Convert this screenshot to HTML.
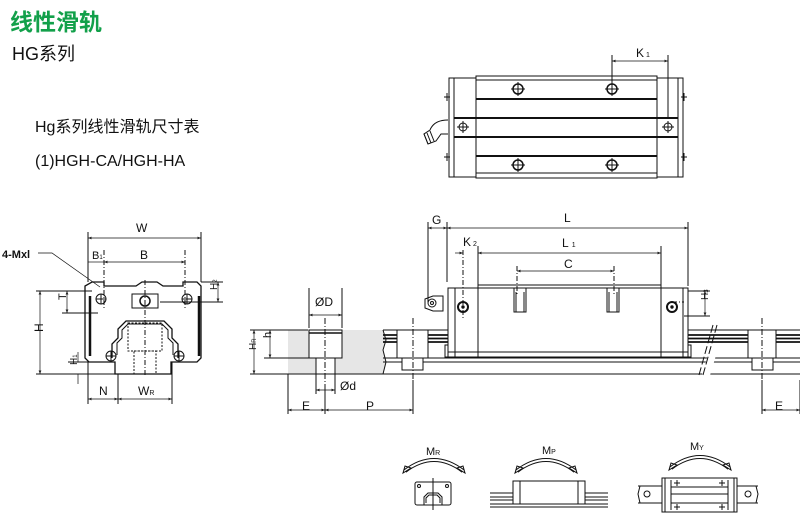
<!DOCTYPE html>
<html><head><meta charset="utf-8"><style>
body{margin:0;background:#fff;width:800px;height:519px;overflow:hidden}
svg{display:block}
text{font-family:"Liberation Sans","Noto Sans CJK SC",sans-serif;fill:#111}
</style></head><body>
<svg width="800" height="519" viewBox="0 0 800 519" xmlns="http://www.w3.org/2000/svg">
<defs>
<marker id="a" viewBox="0 0 10 10" refX="10" refY="5" markerWidth="5" markerHeight="5" orient="auto-start-reverse"><path d="M0,1 L10,5 L0,9 z" fill="#222"/></marker>
</defs>
<text x="10" y="30" font-size="23" font-weight="bold" style="fill:#12a04a">线性滑轨</text>
<text x="12" y="60" font-size="18">HG系列</text>
<text x="35" y="132" font-size="16">Hg系列线性滑轨尺寸表</text>
<text x="35" y="166" font-size="16">(1)HGH-CA/HGH-HA</text>

<!-- TOP VIEW -->
<g stroke="#111" fill="none" stroke-width="1">
<rect x="449" y="78" width="5" height="99"/>
<rect x="454" y="78" width="22" height="99"/>
<rect x="476" y="76" width="181" height="102"/>
<rect x="657" y="78" width="21" height="99"/>
<rect x="678" y="78" width="5" height="99"/>
<line x1="476" y1="80" x2="657" y2="80"/>
<line x1="476" y1="173" x2="657" y2="173"/>
<line x1="476" y1="99" x2="657" y2="99" stroke-width="2"/>
<line x1="454" y1="118" x2="678" y2="118" stroke-width="2"/>
<line x1="454" y1="137" x2="678" y2="137" stroke-width="2"/>
<line x1="476" y1="156" x2="657" y2="156" stroke-width="2"/>
<circle cx="518" cy="89" r="5" stroke-width="1.5"/><circle cx="612" cy="89" r="5" stroke-width="1.5"/>
<circle cx="518" cy="165" r="5" stroke-width="1.5"/><circle cx="612" cy="165" r="5" stroke-width="1.5"/>
<circle cx="463" cy="127" r="4"/><circle cx="668" cy="127" r="4"/>
<path d="M511,89h14M518,82v14M605,89h14M612,82v14M511,165h14M518,158v14M605,165h14M612,158v14M457,127h12M463,121v12M662,127h12M668,121v12"/>
<path d="M444,97h6M447,93v8M444,157h6M447,153v8M681,97h6M684,93v8M681,157h6M684,153v8"/>
<path d="M448,120 q-14,0 -18,10 l-6,4 l4,10 l8,-3 l5,-7 h7" />
<path d="M424,134 l4,10 M427,133 l4,10 M430,131 l4,10"/>
<line x1="612" y1="55" x2="612" y2="89"/><line x1="668" y1="55" x2="668" y2="118"/>
<line x1="612" y1="61" x2="668" y2="61" marker-start="url(#a)" marker-end="url(#a)" stroke-width="0.7"/>
</g>
<text x="636" y="57" font-size="12">K<tspan font-size="7" dx="2">1</tspan></text>

<!-- FRONT VIEW -->
<g stroke="#111" fill="none" stroke-width="1">
<path d="M92,282 h12 v4 h32 l6,-4 h15 l6,4 h20 v-4 h14 l4,4 v72 l-4,4 h-26 v12 h-56 v-12 h-26 l-4,-4 v-72z" stroke-width="1.3"/>
<path d="M90,296 v60" stroke-width="2.5"/><path d="M199,296 v60" stroke-width="2.5"/>
<path d="M112,358 v-14 l6,-6 v-9 l8,-8 h38 l8,8 v9 l6,6 v14" stroke-width="1.3"/>
<path d="M117,355 v-12 l5,-5 v-8 l6,-6 h34 l6,6 v8 l5,5 v12" />
<rect x="128" y="323" width="34" height="28" stroke-dasharray="2,1.5"/>
<rect x="134" y="351" width="22" height="23" stroke-dasharray="2,1.5"/>
<rect x="132" y="294" width="26" height="14"/>
<circle cx="145" cy="301" r="5" stroke-width="1.5"/>
<circle cx="101" cy="299" r="5"/><circle cx="187" cy="299" r="5"/>
<circle cx="111" cy="356" r="5"/><circle cx="179" cy="356" r="5"/>
<path d="M96,299h10M101,294v10M182,299h10M187,294v10M106,356h10M111,351v10M174,356h10M179,351v10"/>
<path d="M145,280 v96" stroke-dasharray="5,2,1,2"/>
<path d="M104,250 v60 M185,250 v60" stroke-dasharray="5,2,1,2"/>
<path d="M88,232 v50 M201,232 v50"/>
<line x1="88" y1="238" x2="201" y2="238" marker-start="url(#a)" marker-end="url(#a)" stroke-width="0.7"/>
<line x1="104" y1="262" x2="185" y2="262" marker-start="url(#a)" marker-end="url(#a)" stroke-width="0.7"/>
<line x1="88" y1="262" x2="104" y2="262" stroke-width="0.7"/>
<path d="M36,291 h56 M36,374 h84 M62,313 h36 M201,282 h22 M160,302 h63 M68,362 h22"/>
<line x1="40" y1="291" x2="40" y2="374" marker-start="url(#a)" marker-end="url(#a)" stroke-width="0.7"/>
<line x1="67" y1="291" x2="67" y2="313" marker-start="url(#a)" marker-end="url(#a)" stroke-width="0.7"/>
<line x1="218" y1="282" x2="218" y2="302" marker-start="url(#a)" marker-end="url(#a)" stroke-width="0.7"/>
<path d="M78,352 v10 M78,374 v10" stroke-width="0.7"/>
<path d="M88,362 v42 M118,374 v30 M172,362 v42"/>
<line x1="88" y1="399" x2="118" y2="399" marker-start="url(#a)" marker-end="url(#a)" stroke-width="0.7"/>
<line x1="118" y1="399" x2="172" y2="399" marker-start="url(#a)" marker-end="url(#a)" stroke-width="0.7"/>
<path d="M38,253 h14 l48,34" stroke-width="0.7"/>
</g>
<text x="136" y="232" font-size="12">W</text>
<text x="92" y="259" font-size="11">B<tspan font-size="6">1</tspan></text>
<text x="140" y="259" font-size="12">B</text>
<text x="2" y="258" font-size="11" font-weight="bold">4-Mxl</text>
<text x="38" y="337" font-size="12" transform="rotate(-90 38 332)">H</text>
<text x="64" y="306" font-size="11" transform="rotate(-90 62 302)">T</text>
<text x="215" y="296" font-size="10" transform="rotate(-90 213 292)">H<tspan font-size="6">2</tspan></text>
<text x="76" y="372" font-size="10" transform="rotate(-90 73 368)">H<tspan font-size="6">1</tspan></text>
<text x="99" y="395" font-size="12">N</text>
<text x="138" y="395" font-size="12">W<tspan font-size="7">R</tspan></text>

<!-- SIDE VIEW -->
<path d="M288,330 H383 l3,10 -3,10 3,12 -3,12 H288z" fill="#e6e6e6"/>
<g stroke="#111" fill="none" stroke-width="1">
<rect x="309" y="330" width="33" height="28" fill="#fff"/>
<rect x="316" y="358" width="19" height="16" fill="#fff"/>
<path d="M309,333 h33" stroke-width="1.5"/>
<path d="M383,330 H800 M288,374 H800 M383,358 H800 M383,362 H800"/>
<path d="M383,335 H800 M383,338.5 H800 M383,342 H800" stroke-width="1.8"/>
<path d="M383,330 l3,10 -3,10 3,12 -3,12"/>
<rect x="397" y="330" width="31" height="28" fill="#fff"/>
<rect x="402" y="358" width="21" height="12" fill="#fff"/>
<rect x="748" y="330" width="28" height="28" fill="#fff"/>
<rect x="752" y="358" width="21" height="12" fill="#fff"/>
<rect x="448" y="288" width="240" height="69" fill="#fff"/>
<path d="M478,285 H661 M455,288 v69 M478,285 v72 M661,285 v72 M683,288 v69 M448,352 H688"/>
<rect x="445" y="345" width="3" height="12"/><rect x="688" y="345" width="3" height="12"/>
<circle cx="463" cy="307" r="5" stroke-width="2"/><circle cx="463" cy="307" r="1.2" fill="#111"/>
<circle cx="672" cy="307" r="5" stroke-width="2"/><circle cx="672" cy="307" r="1.2" fill="#111"/>
<rect x="514" y="288" width="12" height="24"/><rect x="607" y="288" width="12" height="24"/>
<path d="M516,292v20M524,292v20M609,292v20M617,292v20"/>
<path d="M433,296 l-8,3 v9 l8,3 h10 v-15z"/><circle cx="432" cy="303" r="4"/><circle cx="432" cy="303" r="1.5"/>
<path d="M713,345 l-12,40 M717,345 l-12,40" stroke="#fff" stroke-width="4"/>
<path d="M713,325 l-14,50 M717,325 l-14,50" stroke-dasharray="8,3"/>
<path d="M325,318 v70 M413,318 v90 M762,318 v90" stroke-dasharray="6,2,1,2"/>
<path d="M463,250 v70 M614,266 v30 M517,266 v30 M672,302 h12" stroke-dasharray="5,2,1,2"/>
<path d="M428,222 v80 M447,222 v60 M688,222 v64 M478,246 v40 M661,246 v40 M309,288 v40 M342,288 v40 M316,374 v20 M335,374 v20 M288,374 v40 M325,388 v26 M413,380 v34 M800,380 v34 M762,380 v34 M250,330 h58 M250,374 h38 M264,358 h45 M688,291 h22 M684,316 h26"/>
<line x1="428" y1="228" x2="447" y2="228" marker-start="url(#a)" marker-end="url(#a)" stroke-width="0.7"/>
<line x1="447" y1="228" x2="688" y2="228" marker-start="url(#a)" marker-end="url(#a)" stroke-width="0.7"/>
<line x1="455" y1="253" x2="463" y2="253" marker-end="url(#a)" stroke-width="0.7"/>
<line x1="478" y1="253" x2="661" y2="253" marker-start="url(#a)" marker-end="url(#a)" stroke-width="0.7"/>
<line x1="517" y1="271" x2="614" y2="271" marker-start="url(#a)" marker-end="url(#a)" stroke-width="0.7"/>
<line x1="705" y1="291" x2="705" y2="316" marker-start="url(#a)" marker-end="url(#a)" stroke-width="0.7"/>
<line x1="309" y1="315" x2="342" y2="315" marker-start="url(#a)" marker-end="url(#a)" stroke-width="0.7"/>
<line x1="316" y1="390" x2="335" y2="390" marker-start="url(#a)" marker-end="url(#a)" stroke-width="0.7"/>
<line x1="254" y1="330" x2="254" y2="374" marker-start="url(#a)" marker-end="url(#a)" stroke-width="0.7"/>
<line x1="270" y1="330" x2="270" y2="358" marker-start="url(#a)" marker-end="url(#a)" stroke-width="0.7"/>
<line x1="288" y1="410" x2="325" y2="410" marker-start="url(#a)" marker-end="url(#a)" stroke-width="0.7"/>
<line x1="325" y1="410" x2="413" y2="410" marker-start="url(#a)" marker-end="url(#a)" stroke-width="0.7"/>
<line x1="762" y1="410" x2="800" y2="410" marker-start="url(#a)" marker-end="url(#a)" stroke-width="0.7"/>
</g>
<text x="432" y="224" font-size="12">G</text>
<text x="564" y="222" font-size="12">L</text>
<text x="463" y="246" font-size="12">K<tspan font-size="7" dx="2">2</tspan></text>
<text x="562" y="247" font-size="12">L<tspan font-size="7" dx="3">1</tspan></text>
<text x="564" y="268" font-size="12">C</text>
<text x="706" y="306" font-size="10" transform="rotate(-90 704 302)">H<tspan font-size="6">3</tspan></text>
<text x="315" y="306" font-size="12">ØD</text>
<text x="340" y="390" font-size="12">Ød</text>
<text x="252" y="358" font-size="10" transform="rotate(-90 250 352)">H<tspan font-size="6">R</tspan></text>
<text x="270" y="343" font-size="11" transform="rotate(-90 268 340)">h</text>
<text x="302" y="410" font-size="12">E</text>
<text x="366" y="410" font-size="12">P</text>
<text x="775" y="410" font-size="12">E</text>

<!-- MOMENT ICONS -->
<g stroke="#111" fill="none" stroke-width="1">
<path d="M405,471 q29,-22 58,0" stroke-width="4"/><path d="M405,471 q29,-22 58,0" stroke="#fff" stroke-width="2"/>
<path d="M403,473 l2,-7 l6,2z M465,473 l-2,-7 l-6,2z"/>
<path d="M517,471 q29,-22 58,0" stroke-width="4"/><path d="M517,471 q29,-22 58,0" stroke="#fff" stroke-width="2"/>
<path d="M515,473 l2,-7 l6,2z M577,473 l-2,-7 l-6,2z"/>
<path d="M671,468 q29,-22 58,0" stroke-width="4"/><path d="M671,468 q29,-22 58,0" stroke="#fff" stroke-width="2"/>
<path d="M669,470 l2,-7 l6,2z M731,470 l-2,-7 l-6,2z"/>
<rect x="415" y="482" width="36" height="23" rx="2"/>
<path d="M424,505 v-8 l4,-4 h10 l4,4 v8 M426,503 v-5 l3,-3 h8 l3,3 v5 M433,478 v32"/>
<circle cx="419" cy="486" r="1.5"/><circle cx="447" cy="486" r="1.5"/>
<path d="M490,493 H608 M490,497 H608 M490,500 H608 M490,504 H608 M490,507 H608"/>
<rect x="513" y="481" width="72" height="23" fill="#fff"/>
<path d="M520,481 v23 M578,481 v23"/>
<path d="M638,486 H758 M638,503 H758 M640,486 l-2,8 2,9 M756,486 l2,8 -2,9"/>
<circle cx="647" cy="494" r="3"/><circle cx="748" cy="494" r="3"/>
<rect x="662" y="478" width="75" height="34" fill="#fff"/>
<path d="M665,478v34M734,478v34M671,480v30M728,480v30M671,487H728M671,503H728M671,494H728"/>
<path d="M674,483h6M677,480v6M719,483h6M722,480v6M674,507h6M677,504v6M719,507h6M722,504v6"/>
</g>
<text x="426" y="455" font-size="11">M<tspan font-size="7">R</tspan></text>
<text x="542" y="454" font-size="11">M<tspan font-size="7">P</tspan></text>
<text x="690" y="450" font-size="11">M<tspan font-size="7">Y</tspan></text>
</svg>
</body></html>
